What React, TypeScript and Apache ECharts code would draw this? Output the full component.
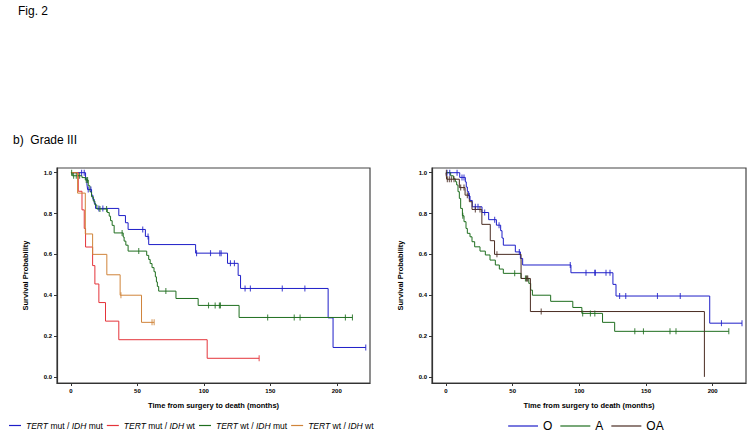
import React, { useEffect, useRef } from "react";
import * as echarts from "echarts";

// ---------- Left panel: TERT / IDH groups ----------
const mutMutTimes = [0, 11, 12, 12.5, 15.5, 16.5, 17.5, 18.5, 36, 41, 43, 56, 58.5, 93.8, 117.8, 125.8, 127.6, 193.5, 197.2];
const mutMutSurv = [1, 0.97, 0.945, 0.918, 0.89, 0.87, 0.85, 0.825, 0.79, 0.755, 0.722, 0.688, 0.648, 0.606, 0.556, 0.497, 0.433, 0.289, 0.144];
const mutMutCens = [8, 10, 13, 15, 21, 24, 54, 58, 94.5, 105, 112, 113, 120, 123, 131, 135, 159, 176, 221.8];

const mutWtTimes = [0, 5.5, 8.3, 10, 11, 16.3, 18, 21, 26, 36, 102.5];
const mutWtSurv = [1, 0.909, 0.818, 0.727, 0.636, 0.545, 0.455, 0.364, 0.273, 0.182, 0.091];
const mutWtCens = [141.6];

const wtMutTimes = [0, 1, 8.3, 10.8, 13, 14.3, 15.5, 16.8, 18, 19.5, 27.3, 28.8, 29.8, 31, 32.5, 39.3, 40, 41.3, 43, 57, 58.5, 59.6, 61, 62.5, 63.5, 64.3, 65, 66, 79, 95.7, 126.5];
const wtMutSurv = [1, 0.985, 0.976, 0.964, 0.936, 0.907, 0.882, 0.861, 0.842, 0.822, 0.805, 0.787, 0.765, 0.742, 0.705, 0.685, 0.665, 0.645, 0.616, 0.595, 0.575, 0.555, 0.535, 0.515, 0.49, 0.465, 0.443, 0.42, 0.384, 0.35, 0.291];
const wtMutCens = [0.5, 2, 4, 6.5, 11.5, 12.5, 21.8, 26.8, 38.5, 51, 71.4, 103.5, 108.5, 111.7, 112.5, 148, 168, 172.4, 206.5, 211.8];

const wtWtTimes = [0, 5, 10.8, 16.3, 27, 37, 53.1];
const wtWtSurv = [1, 0.9, 0.7, 0.6, 0.5, 0.4, 0.267];
const wtWtCens = [37.6, 61, 62.6];

// ---------- Right panel: histology ----------
const oTimes = [0, 10.3, 14.5, 15.2, 16, 17, 18, 19.7, 27, 32, 37.8, 41, 42, 43, 52, 55.8, 57.5, 93.7, 125.2, 127.5, 197.8];
const oSurv = [1, 0.977, 0.955, 0.93, 0.908, 0.886, 0.864, 0.833, 0.805, 0.77, 0.743, 0.716, 0.68, 0.645, 0.612, 0.58, 0.548, 0.51, 0.453, 0.396, 0.263];
const oCens = [0.8, 2.8, 8.3, 12, 13.5, 17.5, 22, 24, 29, 36.5, 39.8, 55, 93.2, 105, 111.6, 112, 120, 123, 130.2, 134.8, 158.6, 175.7, 206.6, 222];

const aTimes = [0, 3.5, 5.5, 7, 8, 9, 10, 11, 12.3, 13.5, 15, 16, 18, 19.5, 21.5, 25.5, 29.5, 33, 37, 40, 43, 56.3, 62.1, 63.5, 64.8, 78.5, 95.1, 101.9, 117.4, 126.5];
const aSurv = [1, 0.985, 0.97, 0.956, 0.94, 0.907, 0.874, 0.825, 0.789, 0.76, 0.727, 0.703, 0.686, 0.662, 0.637, 0.616, 0.597, 0.572, 0.548, 0.528, 0.507, 0.482, 0.458, 0.425, 0.4, 0.37, 0.34, 0.311, 0.267, 0.223];
const aCens = [12.6, 51.5, 59.6, 60.8, 102.5, 108.3, 111.6, 141.6, 148.1, 168, 172.5, 212.1];

const oaTimes = [0, 0.5, 10, 14.3, 17.5, 19.5, 26.9, 33.2, 36.4, 56.3, 63.3, 193.8];
const oaSurv = [1, 0.968, 0.927, 0.89, 0.858, 0.82, 0.747, 0.667, 0.6, 0.482, 0.32, 0];
const oaCens = [0.3, 1, 2.5, 4, 6, 11, 13.5, 16, 22, 25.5, 38.2, 60.3, 61.3, 71.4];

const xTicks = [0, 50, 100, 150, 200];
const yTicks = [0, 0.2, 0.4, 0.6, 0.8, 1.0];

const leftNames = ["TERT mut / IDH mut", "TERT mut / IDH wt", "TERT wt / IDH mut", "TERT wt / IDH wt"];
const rightNames = ["O", "A", "OA"];

const FONT = "'Liberation Sans', Arial, sans-serif";

function survAt(times: number[], surv: number[], t: number) {
  let s = surv[0];
  for (let i = 0; i < times.length; i++) if (times[i] <= t) s = surv[i];
  return s;
}

function kmSeries(name: string, times: number[], surv: number[], cens: number[], color: string, idx: number) {
  const pts: number[][] = times.map((t, i) => [t, surv[i]]);
  const lastT = Math.max(times[times.length - 1], cens.length ? Math.max(...cens) : 0);
  if (lastT > times[times.length - 1]) pts.push([lastT, surv[surv.length - 1]]);
  return [
    {
      name,
      type: "line",
      step: "end",
      xAxisIndex: idx,
      yAxisIndex: idx,
      data: pts,
      symbol: "none",
      showSymbol: false,
      lineStyle: { color, width: 1 },
      itemStyle: { color },
      z: 2,
    },
    {
      name: name + " censored",
      type: "scatter",
      xAxisIndex: idx,
      yAxisIndex: idx,
      data: cens.map((c) => [c, survAt(times, surv, c)]),
      symbol: "rect",
      symbolSize: [1.1, 6],
      itemStyle: { color },
      silent: true,
      z: 3,
    },
  ];
}

function xAxis(gridIndex: number) {
  return {
    type: "value",
    gridIndex,
    min: -10.5,
    max: 225,
    name: "Time from surgery to death (months)",
    nameLocation: "middle",
    nameGap: 18,
    nameTextStyle: { fontFamily: FONT, fontWeight: "bold", fontSize: 7.5, color: "#000" },
    axisLine: { show: true, onZero: false, lineStyle: { color: "#333", width: 1.2 } },
    axisTick: { show: true, length: 3, customValues: xTicks, lineStyle: { color: "#333" } },
    axisLabel: { customValues: xTicks, fontFamily: FONT, fontWeight: "bold", fontSize: 6, color: "#000", margin: 5 },
    splitLine: { show: false },
  };
}

function yAxis(gridIndex: number) {
  return {
    type: "value",
    gridIndex,
    min: -0.03,
    max: 1.023,
    name: "Survival Probability",
    nameLocation: "middle",
    nameGap: 28,
    nameRotate: 90,
    nameTextStyle: { fontFamily: FONT, fontWeight: "bold", fontSize: 7.5, color: "#000" },
    axisLine: { show: true, onZero: false, lineStyle: { color: "#333", width: 1.2 } },
    axisTick: { show: true, length: 3, customValues: yTicks, lineStyle: { color: "#333" } },
    axisLabel: {
      customValues: yTicks,
      formatter: (v: number) => v.toFixed(1),
      fontFamily: FONT,
      fontWeight: "bold",
      fontSize: 6,
      color: "#000",
      margin: 5,
    },
    splitLine: { show: false },
  };
}

export default function App() {
  const ref = useRef<HTMLDivElement>(null);
  useEffect(() => {
    if (!ref.current) return;
    const chart = echarts.init(ref.current, undefined, { renderer: "svg" });
    const blue = "#1e1ec8";
    const red = "#e4343a";
    const green = "#1f6e1f";
    const orange = "#d0843a";
    const brown = "#4a2c22";
    const series: any[] = [
      ...kmSeries(leftNames[0], mutMutTimes, mutMutSurv, mutMutCens, blue, 0),
      ...kmSeries(leftNames[1], mutWtTimes, mutWtSurv, mutWtCens, red, 0),
      ...kmSeries(leftNames[2], wtMutTimes, wtMutSurv, wtMutCens, green, 0),
      ...kmSeries(leftNames[3], wtWtTimes, wtWtSurv, wtWtCens, orange, 0),
      ...kmSeries(rightNames[0], oTimes, oSurv, oCens, blue, 1),
      ...kmSeries(rightNames[1], aTimes, aSurv, aCens, green, 1),
      ...kmSeries(rightNames[2], oaTimes, oaSurv, oaCens, brown, 1),
    ];
    chart.setOption({
      animation: false,
      backgroundColor: "#fff",
      grid: [
        { left: 57, top: 168, width: 313, height: 215, show: true, borderColor: "#444", borderWidth: 1.2 },
        { left: 432, top: 168, width: 314, height: 215, show: true, borderColor: "#444", borderWidth: 1.2 },
      ],
      xAxis: [xAxis(0), xAxis(1)],
      yAxis: [yAxis(0), yAxis(1)],
      legend: [
        {
          data: leftNames.map((n) => ({ name: n, icon: "rect" })),
          left: 4,
          top: 416,
          itemWidth: 12,
          itemHeight: 1.2,
          itemGap: 4,
          selectedMode: false,
          itemStyle: { borderWidth: 0 },
          lineStyle: { width: 0 },
          formatter: (n: string) => n.replace(/(TERT|IDH)/g, "{i|$1}"),
          textStyle: {
            fontFamily: FONT,
            fontSize: 8.5,
            color: "#000",
            rich: { i: { fontStyle: "italic", fontFamily: FONT, fontSize: 8.5, color: "#000" } },
          },
        },
        {
          data: rightNames.map((n) => ({ name: n, icon: "rect" })),
          left: 503,
          top: 415,
          itemWidth: 30,
          itemHeight: 1.2,
          itemGap: 8,
          selectedMode: false,
          itemStyle: { borderWidth: 0 },
          lineStyle: { width: 0 },
          textStyle: { fontFamily: FONT, fontSize: 12, color: "#000" },
        },
      ],
      graphic: [
        { type: "text", left: 18, top: 5, style: { text: "Fig. 2", font: `12px ${FONT}`, fill: "#000" } },
        { type: "text", left: 13, top: 134, style: { text: "b)  Grade III", font: `12px ${FONT}`, fill: "#000" } },
      ],
      series,
    });
    return () => chart.dispose();
  }, []);
  return <div ref={ref} style={{ position: "fixed", left: 0, top: 0, width: 750, height: 434 }} />;
}
